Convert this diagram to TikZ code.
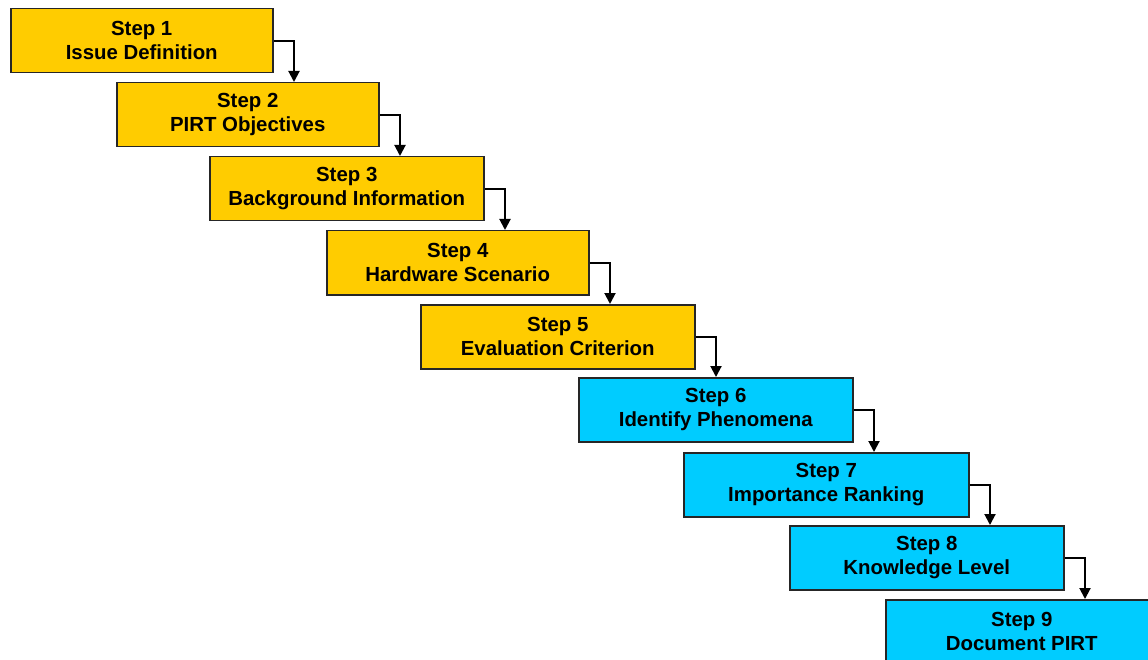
\documentclass[tikz,border=0pt]{standalone}
\usepackage{fontspec}
\setmainfont{Liberation Sans}
\usetikzlibrary{arrows.meta,calc}
\definecolor{stepyellow}{HTML}{FFCC00}
\definecolor{stepcyan}{HTML}{00CCFF}
\begin{document}
\begin{tikzpicture}[x=1pt,y=1pt,
  stepbox/.style={draw=black!85, line width=1.5pt, rectangle, anchor=north west,
    minimum height=64pt, inner sep=0pt, align=center,
    font=\fontsize{20.4}{24}\selectfont\bfseries},
  ybox/.style={stepbox, fill=stepyellow},
  cbox/.style={stepbox, fill=stepcyan},
  conn/.style={draw=black, line width=2pt, -{Triangle[length=11pt,width=11pt]}}]
\useasboundingbox (0,0) rectangle (1148,-660);
\clip (0,0) rectangle (1148,-660);
\node[ybox, minimum width=262pt] (s1) at (10,-8) {Step 1\\Issue Definition};
\node[ybox, minimum width=262pt] (s2) at (116,-82) {Step 2\\PIRT Objectives};
\node[ybox, minimum width=274pt] (s3) at (209,-156) {Step 3\\Background Information};
\node[ybox, minimum width=262pt] (s4) at (326,-230) {Step 4\\Hardware Scenario};
\node[ybox, minimum width=274pt] (s5) at (420,-304) {Step 5\\Evaluation Criterion};
\node[cbox, minimum width=274pt] (s6) at (578,-377) {Step 6\\Identify Phenomena};
\node[cbox, minimum width=285pt] (s7) at (683,-452) {Step 7\\Importance Ranking};
\node[cbox, minimum width=274pt] (s8) at (789,-525) {Step 8\\Knowledge Level};
\node[cbox, minimum width=272pt] (s9) at (885,-599) {Step 9\\Document PIRT};
\foreach \a/\b in {s1/s2,s2/s3,s3/s4,s4/s5,s5/s6,s6/s7,s7/s8,s8/s9}{
  \draw[conn] (\a.east) -- ++(20.5,0) coordinate (c\a) -- (c\a |- \b.north);
}
\end{tikzpicture}
\end{document}
